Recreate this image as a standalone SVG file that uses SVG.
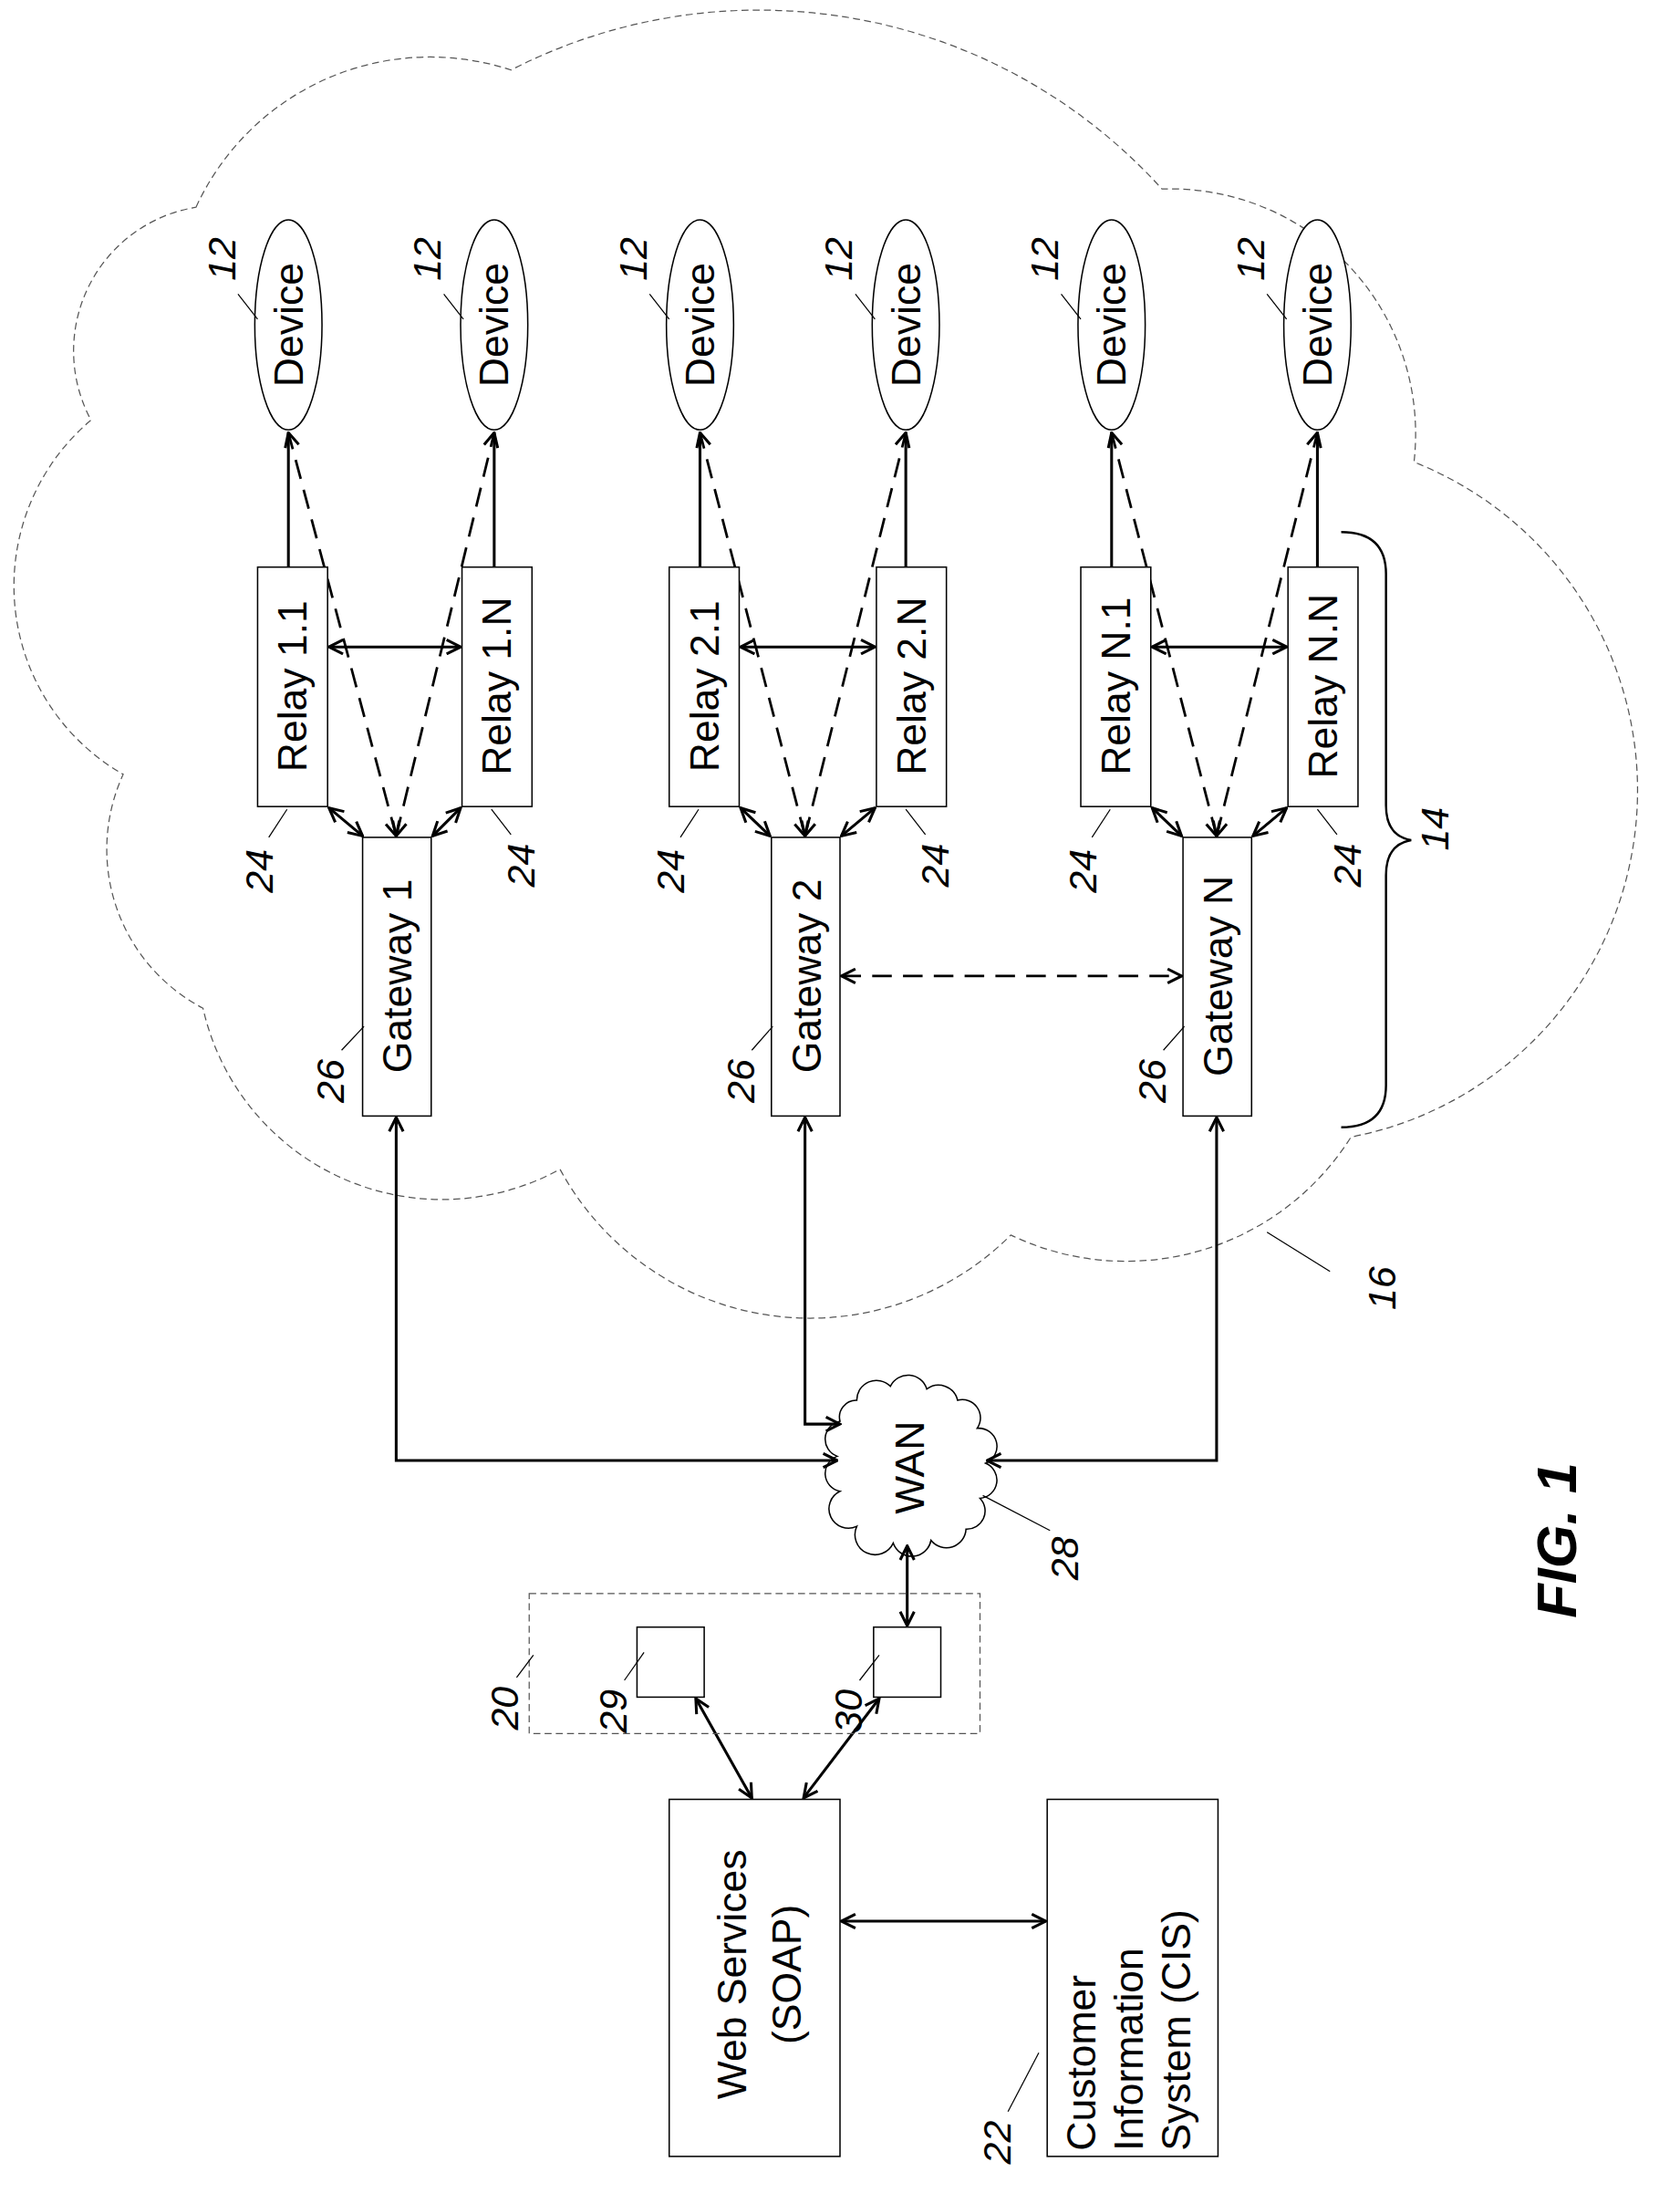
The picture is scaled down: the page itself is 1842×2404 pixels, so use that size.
<svg xmlns="http://www.w3.org/2000/svg" width="1842" height="2404" viewBox="0 0 1842 2404">
<defs>
<style>
.b{fill:#fff;stroke:#000;stroke-width:1}
.t{font-family:"Liberation Sans",Arial,sans-serif;font-size:29px;fill:#000}
.l{font-family:"Liberation Sans",Arial,sans-serif;font-size:28px;font-style:italic;fill:#000}
.ld{stroke:#000;stroke-width:0.8;fill:none}
.c{stroke:#000;stroke-width:2;fill:none;marker-start:url(#a);marker-end:url(#a)}
.s{stroke:#000;stroke-width:2;fill:none}
.d{stroke:#000;stroke-width:1.8;fill:none;stroke-dasharray:14 8;marker-start:url(#a);marker-end:url(#a)}
.cl{fill:none;stroke:#555;stroke-width:0.8;stroke-dasharray:5 3}
</style>
<marker id="a" viewBox="0 0 12 12" refX="11" refY="6" markerWidth="12" markerHeight="12" markerUnits="userSpaceOnUse" orient="auto-start-reverse"><path d="M1,1 L11,6 L1,11" fill="none" stroke="#000" stroke-width="2"/></marker>
</defs>
<rect width="1842" height="2404" fill="#fff"/>
<g transform="scale(1.535)">
<g id="cloud16">
<path class="cl" d="M140,148 A184,184 0 0 1 365,50 A388,388 0 0 1 830,135 A175,175 0 0 1 1010,330 A252,252 0 0 1 965,812 A190,190 0 0 1 722,882 A203,203 0 0 1 400,835 A175,175 0 0 1 145,720 A128,128 0 0 1 88,553 A155,155 0 0 1 65,300 A104,104 0 0 1 140,148 Z"/>
</g>
<g id="wan">
<path class="b" d="M612,1000 A14,14 0 0 1 636,990 A14,14 0 0 1 662,992 A14,14 0 0 1 684,1000 A13,13 0 0 1 698,1020 A13,13 0 0 1 704,1045 A13,13 0 0 1 700,1070 A13,13 0 0 1 690,1092 A14,14 0 0 1 665,1100 A14,14 0 0 1 638,1102 A14,14 0 0 1 612,1090 A13,13 0 0 1 600,1065 A13,13 0 0 1 598,1040 A13,13 0 0 1 600,1015 A12,12 0 0 1 612,1000 Z"/>
<text class="t" text-anchor="middle" dominant-baseline="central" transform="translate(650,1048) rotate(-90)">WAN</text>
</g>
<g id="connectors">
<line class="s" x1="206" y1="405" x2="206" y2="309"/>
<line class="s" x1="353" y1="405" x2="353" y2="309"/>
<line class="d" x1="283" y1="597" x2="206" y2="309"/>
<line class="d" x1="283" y1="597" x2="353" y2="309"/>
<line class="c" x1="235" y1="462" x2="329" y2="462"/>
<line class="c" x1="235" y1="577" x2="259" y2="597"/>
<line class="c" x1="329" y1="577" x2="309" y2="597"/>
<line class="s" x1="500" y1="405" x2="500" y2="309"/>
<line class="s" x1="647" y1="405" x2="647" y2="309"/>
<line class="d" x1="575" y1="597" x2="500" y2="309"/>
<line class="d" x1="575" y1="597" x2="647" y2="309"/>
<line class="c" x1="529" y1="462" x2="625" y2="462"/>
<line class="c" x1="529" y1="577" x2="550" y2="597"/>
<line class="c" x1="625" y1="577" x2="601" y2="597"/>
<line class="s" x1="794" y1="405" x2="794" y2="309"/>
<line class="s" x1="941" y1="405" x2="941" y2="309"/>
<line class="d" x1="869" y1="597" x2="794" y2="309"/>
<line class="d" x1="869" y1="597" x2="941" y2="309"/>
<line class="c" x1="823" y1="462" x2="919" y2="462"/>
<line class="c" x1="823" y1="577" x2="844" y2="597"/>
<line class="c" x1="919" y1="577" x2="895" y2="597"/>
<line class="d" x1="601" y1="697" x2="844" y2="697"/>
<path class="c" d="M283,798 L283,1043 L598,1043"/>
<path class="c" d="M575,798 L575,1017 L600,1017"/>
<path class="c" d="M869,798 L869,1043 L705,1043"/>
<line class="c" x1="648" y1="1104" x2="648" y2="1161"/>
<line class="c" x1="497" y1="1213" x2="537" y2="1284"/>
<line class="c" x1="628" y1="1213" x2="574" y2="1284"/>
<line class="c" x1="601" y1="1372" x2="747" y2="1372"/>
<path class="s" style="stroke-width:1.6" d="M958,380 Q990,380 990,410 L990,575 Q990,597 1008,600 Q990,603 990,625 L990,775 Q990,805 958,805"/>
</g>
<g id="devices">
<g id="dev1"><ellipse class="b" cx="206" cy="232" rx="24" ry="75"/><text class="t" text-anchor="middle" dominant-baseline="central" transform="translate(206,232) rotate(-90)">Device</text></g>
<g id="dev2"><ellipse class="b" cx="353" cy="232" rx="24" ry="75"/><text class="t" text-anchor="middle" dominant-baseline="central" transform="translate(353,232) rotate(-90)">Device</text></g>
<g id="dev3"><ellipse class="b" cx="500" cy="232" rx="24" ry="75"/><text class="t" text-anchor="middle" dominant-baseline="central" transform="translate(500,232) rotate(-90)">Device</text></g>
<g id="dev4"><ellipse class="b" cx="647" cy="232" rx="24" ry="75"/><text class="t" text-anchor="middle" dominant-baseline="central" transform="translate(647,232) rotate(-90)">Device</text></g>
<g id="dev5"><ellipse class="b" cx="794" cy="232" rx="24" ry="75"/><text class="t" text-anchor="middle" dominant-baseline="central" transform="translate(794,232) rotate(-90)">Device</text></g>
<g id="dev6"><ellipse class="b" cx="941" cy="232" rx="24" ry="75"/><text class="t" text-anchor="middle" dominant-baseline="central" transform="translate(941,232) rotate(-90)">Device</text></g>
</g>
<g id="relays">
<g id="r11"><rect class="b" x="184" y="405" width="50" height="171"/><text class="t" text-anchor="middle" dominant-baseline="central" transform="translate(209,490) rotate(-90)">Relay 1.1</text></g>
<g id="r1n"><rect class="b" x="330" y="405" width="50" height="171"/><text class="t" text-anchor="middle" dominant-baseline="central" transform="translate(355,490) rotate(-90)">Relay 1.N</text></g>
<g id="r21"><rect class="b" x="478" y="405" width="50" height="171"/><text class="t" text-anchor="middle" dominant-baseline="central" transform="translate(503,490) rotate(-90)">Relay 2.1</text></g>
<g id="r2n"><rect class="b" x="626" y="405" width="50" height="171"/><text class="t" text-anchor="middle" dominant-baseline="central" transform="translate(651,490) rotate(-90)">Relay 2.N</text></g>
<g id="rn1"><rect class="b" x="772" y="405" width="50" height="171"/><text class="t" text-anchor="middle" dominant-baseline="central" transform="translate(797,490) rotate(-90)">Relay N.1</text></g>
<g id="rnn"><rect class="b" x="920" y="405" width="50" height="171"/><text class="t" text-anchor="middle" dominant-baseline="central" transform="translate(945,490) rotate(-90)">Relay N.N</text></g>
</g>
<g id="gateways">
<g id="gw1"><rect class="b" x="259" y="598" width="49" height="199"/><text class="t" text-anchor="middle" dominant-baseline="central" transform="translate(284,697) rotate(-90)">Gateway 1</text></g>
<g id="gw2"><rect class="b" x="551" y="598" width="49" height="199"/><text class="t" text-anchor="middle" dominant-baseline="central" transform="translate(576,697) rotate(-90)">Gateway 2</text></g>
<g id="gwn"><rect class="b" x="845" y="598" width="49" height="199"/><text class="t" text-anchor="middle" dominant-baseline="central" transform="translate(870,697) rotate(-90)">Gateway N</text></g>
</g>
<g id="box20"><rect x="378" y="1138" width="322" height="100" fill="none" stroke="#555" stroke-width="0.8" stroke-dasharray="5 3"/></g>
<g id="box29"><rect class="b" x="455" y="1162" width="48" height="50"/></g>
<g id="box30"><rect class="b" x="624" y="1162" width="48" height="50"/></g>
<g id="web"><rect class="b" x="478" y="1285" width="122" height="255"/>
<text class="t" text-anchor="middle" dominant-baseline="central" transform="translate(523,1410) rotate(-90)">Web Services</text>
<text class="t" text-anchor="middle" dominant-baseline="central" transform="translate(562,1410) rotate(-90)">(SOAP)</text></g>
<g id="cis"><rect class="b" x="748" y="1285" width="122" height="255"/>
<text class="t" dominant-baseline="central" transform="translate(772,1536) rotate(-90)">Customer</text>
<text class="t" dominant-baseline="central" transform="translate(806,1536) rotate(-90)">Information</text>
<text class="t" dominant-baseline="central" transform="translate(840,1536) rotate(-90)">System (CIS)</text></g>
<g id="labels">
<g><text class="l" text-anchor="middle" dominant-baseline="central" transform="translate(158,185) rotate(-90)">12</text><line class="ld" x1="170" y1="210" x2="184" y2="228"/></g>
<g><text class="l" text-anchor="middle" dominant-baseline="central" transform="translate(305,185) rotate(-90)">12</text><line class="ld" x1="317" y1="210" x2="331" y2="228"/></g>
<g><text class="l" text-anchor="middle" dominant-baseline="central" transform="translate(452,185) rotate(-90)">12</text><line class="ld" x1="464" y1="210" x2="478" y2="228"/></g>
<g><text class="l" text-anchor="middle" dominant-baseline="central" transform="translate(599,185) rotate(-90)">12</text><line class="ld" x1="611" y1="210" x2="625" y2="228"/></g>
<g><text class="l" text-anchor="middle" dominant-baseline="central" transform="translate(746,185) rotate(-90)">12</text><line class="ld" x1="758" y1="210" x2="772" y2="228"/></g>
<g><text class="l" text-anchor="middle" dominant-baseline="central" transform="translate(893,185) rotate(-90)">12</text><line class="ld" x1="905" y1="210" x2="919" y2="228"/></g>
<g><text class="l" text-anchor="middle" dominant-baseline="central" transform="translate(185,622) rotate(-90)">24</text><line class="ld" x1="192" y1="598" x2="205" y2="578"/></g>
<g><text class="l" text-anchor="middle" dominant-baseline="central" transform="translate(372,618) rotate(-90)">24</text><line class="ld" x1="365" y1="596" x2="351" y2="578"/></g>
<g><text class="l" text-anchor="middle" dominant-baseline="central" transform="translate(479,622) rotate(-90)">24</text><line class="ld" x1="486" y1="598" x2="499" y2="578"/></g>
<g><text class="l" text-anchor="middle" dominant-baseline="central" transform="translate(668,618) rotate(-90)">24</text><line class="ld" x1="661" y1="596" x2="647" y2="578"/></g>
<g><text class="l" text-anchor="middle" dominant-baseline="central" transform="translate(773,622) rotate(-90)">24</text><line class="ld" x1="780" y1="598" x2="793" y2="578"/></g>
<g><text class="l" text-anchor="middle" dominant-baseline="central" transform="translate(962,618) rotate(-90)">24</text><line class="ld" x1="955" y1="596" x2="941" y2="578"/></g>
<g><text class="l" text-anchor="middle" dominant-baseline="central" transform="translate(236,772) rotate(-90)">26</text><line class="ld" x1="244" y1="750" x2="260" y2="733"/></g>
<g><text class="l" text-anchor="middle" dominant-baseline="central" transform="translate(529,772) rotate(-90)">26</text><line class="ld" x1="537" y1="750" x2="552" y2="733"/></g>
<g><text class="l" text-anchor="middle" dominant-baseline="central" transform="translate(823,772) rotate(-90)">26</text><line class="ld" x1="831" y1="750" x2="846" y2="733"/></g>
<g><text class="l" text-anchor="middle" dominant-baseline="central" transform="translate(1025,592) rotate(-90)">14</text></g>
<g><text class="l" text-anchor="middle" dominant-baseline="central" transform="translate(987,920) rotate(-90)">16</text><line class="ld" x1="950" y1="908" x2="905" y2="880"/></g>
<g><text class="l" text-anchor="middle" dominant-baseline="central" transform="translate(760,1113) rotate(-90)">28</text><line class="ld" x1="750" y1="1093" x2="702" y2="1068"/></g>
<g><text class="l" text-anchor="middle" dominant-baseline="central" transform="translate(360,1220) rotate(-90)">20</text><line class="ld" x1="369" y1="1198" x2="381" y2="1182"/></g>
<g><text class="l" text-anchor="middle" dominant-baseline="central" transform="translate(438,1222) rotate(-90)">29</text><line class="ld" x1="446" y1="1200" x2="460" y2="1180"/></g>
<g><text class="l" text-anchor="middle" dominant-baseline="central" transform="translate(606,1222) rotate(-90)">30</text><line class="ld" x1="614" y1="1200" x2="628" y2="1182"/></g>
<g><text class="l" text-anchor="middle" dominant-baseline="central" transform="translate(712,1530) rotate(-90)">22</text><line class="ld" x1="720" y1="1508" x2="742" y2="1466"/></g>
<text font-family="Liberation Sans,Arial,sans-serif" font-size="40" font-weight="bold" font-style="italic" text-anchor="middle" dominant-baseline="central" transform="translate(1112,1100) rotate(-90)">FIG. 1</text>
</g>
</g>
</svg>
